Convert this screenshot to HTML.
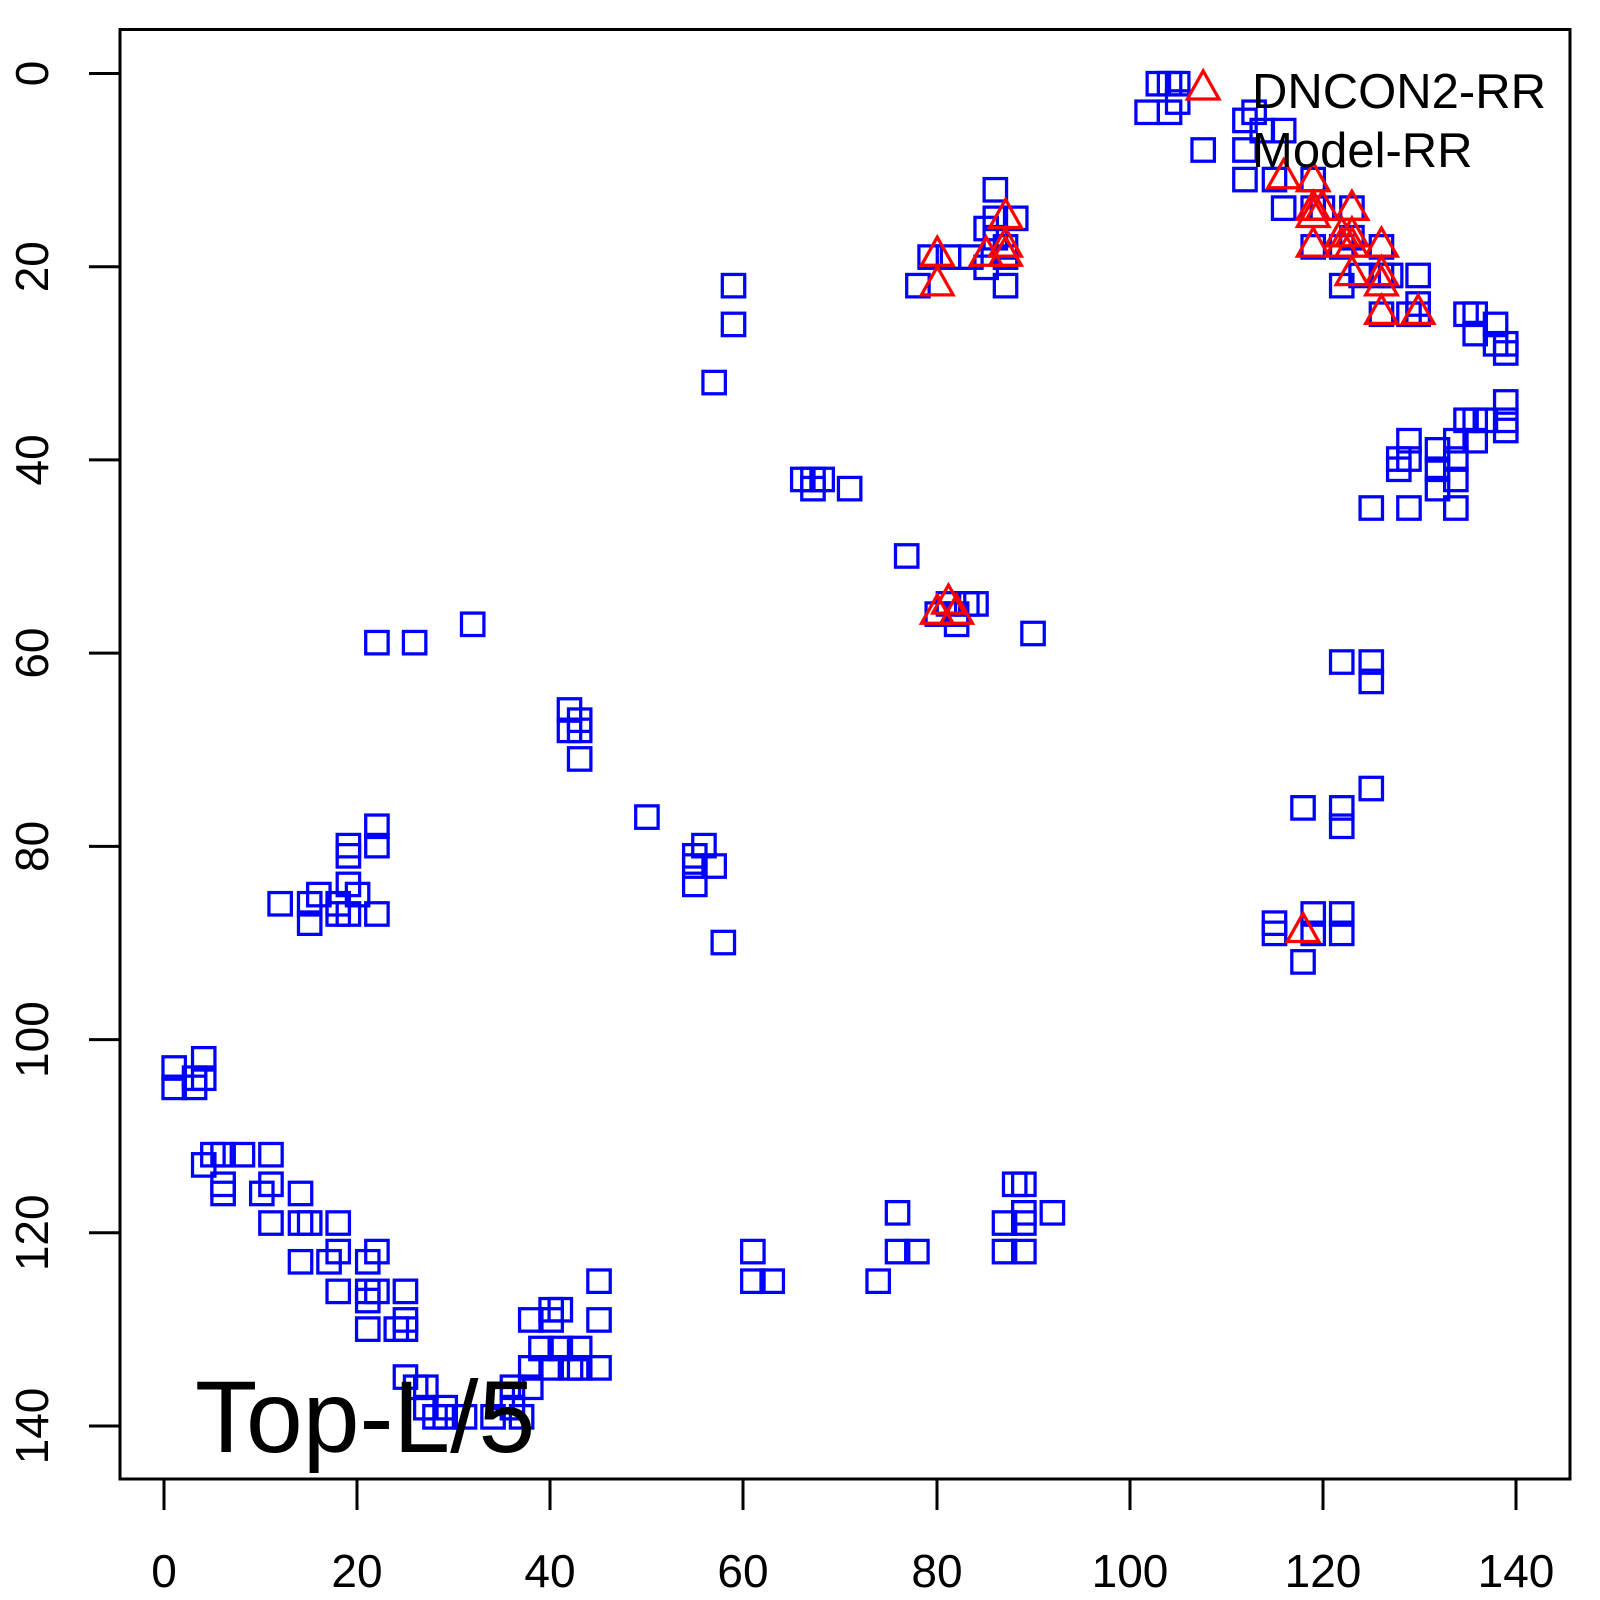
<!DOCTYPE html>
<html><head><meta charset="utf-8"><style>html,body{margin:0;padding:0;background:#fff}svg{display:block}</style></head>
<body>
<svg width="1600" height="1600" viewBox="0 0 1600 1600" xmlns="http://www.w3.org/2000/svg" font-family="'Liberation Sans', sans-serif">
<defs>
<rect id="s" x="-11" y="-11" width="22" height="22" fill="none" stroke="#0000ff" stroke-width="3.2"/>
<polygon id="t" points="0,-16.5 -15.5,11 15.5,11" fill="none" stroke="#ff0000" stroke-width="3.2" stroke-linejoin="miter"/>
</defs>
<rect x="120" y="29.5" width="1450" height="1449.5" fill="none" stroke="#000" stroke-width="3"/>
<g stroke="#000" stroke-width="3">
<line x1="164" y1="1479" x2="164" y2="1510"/><line x1="357" y1="1479" x2="357" y2="1510"/><line x1="550" y1="1479" x2="550" y2="1510"/><line x1="743" y1="1479" x2="743" y2="1510"/><line x1="937" y1="1479" x2="937" y2="1510"/><line x1="1130" y1="1479" x2="1130" y2="1510"/><line x1="1323" y1="1479" x2="1323" y2="1510"/><line x1="1516" y1="1479" x2="1516" y2="1510"/>
<line x1="89" y1="73.5" x2="120" y2="73.5"/><line x1="89" y1="266.7" x2="120" y2="266.7"/><line x1="89" y1="459.9" x2="120" y2="459.9"/><line x1="89" y1="653.1" x2="120" y2="653.1"/><line x1="89" y1="846.4" x2="120" y2="846.4"/><line x1="89" y1="1039.6" x2="120" y2="1039.6"/><line x1="89" y1="1232.8" x2="120" y2="1232.8"/><line x1="89" y1="1426" x2="120" y2="1426"/>
</g>
<g font-size="46" text-anchor="middle" fill="#000">
<text x="164" y="1587">0</text><text x="357" y="1587">20</text><text x="550" y="1587">40</text><text x="743" y="1587">60</text><text x="937" y="1587">80</text><text x="1130" y="1587">100</text><text x="1323" y="1587">120</text><text x="1516" y="1587">140</text>
<text transform="translate(48,73.5) rotate(-90)">0</text>
<text transform="translate(48,266.7) rotate(-90)">20</text>
<text transform="translate(48,459.9) rotate(-90)">40</text>
<text transform="translate(48,653.1) rotate(-90)">60</text>
<text transform="translate(48,846.4) rotate(-90)">80</text>
<text transform="translate(48,1039.6) rotate(-90)">100</text>
<text transform="translate(48,1232.8) rotate(-90)">120</text>
<text transform="translate(48,1426) rotate(-90)">140</text>
</g>
<g transform="matrix(1.0188 0 0 1.02 0.99 0.06)">
<use href="#s" x="1136" y="82"/><use href="#s" x="1147" y="82"/><use href="#s" x="1155" y="82"/><use href="#s" x="1125" y="110"/><use href="#s" x="1147" y="110"/><use href="#s" x="1155" y="100"/><use href="#s" x="1180" y="147"/><use href="#s" x="1221" y="118"/><use href="#s" x="1221" y="147"/><use href="#s" x="1221" y="176"/><use href="#s" x="1230" y="110"/><use href="#s" x="1238" y="128"/><use href="#s" x="1259" y="128"/><use href="#s" x="1259" y="204"/><use href="#s" x="1250" y="176"/><use href="#s" x="1288" y="176"/><use href="#s" x="1288" y="204"/><use href="#s" x="1288" y="242"/><use href="#s" x="1297" y="204"/><use href="#s" x="1316" y="242"/><use href="#s" x="1316" y="280"/><use href="#s" x="1326" y="204"/><use href="#s" x="1326" y="233"/><use href="#s" x="1335" y="270"/><use href="#s" x="1355" y="242"/><use href="#s" x="1355" y="270"/><use href="#s" x="1364" y="270"/><use href="#s" x="1355" y="308"/><use href="#s" x="1382" y="308"/><use href="#s" x="1391" y="270"/><use href="#s" x="1391" y="298"/><use href="#s" x="1391" y="308"/><use href="#s" x="1438" y="308"/><use href="#s" x="1447" y="308"/><use href="#s" x="1447" y="327"/><use href="#s" x="1467" y="318"/><use href="#s" x="1467" y="337"/><use href="#s" x="1477" y="337"/><use href="#s" x="1477" y="346"/>
<use href="#s" x="1477" y="394"/><use href="#s" x="1477" y="412"/><use href="#s" x="1477" y="422"/><use href="#s" x="1457" y="412"/><use href="#s" x="1447" y="412"/><use href="#s" x="1447" y="432"/><use href="#s" x="1438" y="412"/><use href="#s" x="1428" y="432"/><use href="#s" x="1428" y="450"/><use href="#s" x="1428" y="470"/><use href="#s" x="1428" y="498"/><use href="#s" x="1410" y="441"/><use href="#s" x="1410" y="460"/><use href="#s" x="1410" y="479"/><use href="#s" x="1382" y="432"/><use href="#s" x="1382" y="450"/><use href="#s" x="1372" y="450"/><use href="#s" x="1372" y="460"/><use href="#s" x="1345" y="498"/><use href="#s" x="1382" y="498"/>
<use href="#s" x="1316" y="649"/><use href="#s" x="1345" y="649"/><use href="#s" x="1345" y="668"/><use href="#s" x="1345" y="773"/><use href="#s" x="1278" y="792"/><use href="#s" x="1316" y="792"/><use href="#s" x="1316" y="810"/><use href="#s" x="1250" y="905"/><use href="#s" x="1250" y="915"/><use href="#s" x="1288" y="896"/><use href="#s" x="1288" y="915"/><use href="#s" x="1316" y="896"/><use href="#s" x="1316" y="915"/><use href="#s" x="1278" y="943"/>
<use href="#s" x="976" y="186"/><use href="#s" x="976" y="214"/><use href="#s" x="996" y="214"/><use href="#s" x="967" y="224"/><use href="#s" x="976" y="233"/><use href="#s" x="986" y="242"/><use href="#s" x="986" y="252"/><use href="#s" x="952" y="252"/><use href="#s" x="967" y="262"/><use href="#s" x="930" y="252"/><use href="#s" x="912" y="252"/><use href="#s" x="900" y="280"/><use href="#s" x="986" y="280"/>
<use href="#s" x="719" y="280"/><use href="#s" x="719" y="318"/><use href="#s" x="700" y="375"/><use href="#s" x="787" y="470"/><use href="#s" x="797" y="470"/><use href="#s" x="806" y="470"/><use href="#s" x="797" y="479"/><use href="#s" x="833" y="479"/><use href="#s" x="889" y="545"/><use href="#s" x="919" y="602"/><use href="#s" x="930" y="592"/><use href="#s" x="938" y="602"/><use href="#s" x="948" y="592"/><use href="#s" x="957" y="592"/><use href="#s" x="938" y="612"/><use href="#s" x="1013" y="621"/>
<use href="#s" x="463" y="612"/><use href="#s" x="369" y="630"/><use href="#s" x="406" y="630"/><use href="#s" x="558" y="696"/><use href="#s" x="568" y="706"/><use href="#s" x="558" y="716"/><use href="#s" x="568" y="716"/><use href="#s" x="568" y="744"/><use href="#s" x="634" y="801"/><use href="#s" x="681" y="839"/><use href="#s" x="690" y="829"/><use href="#s" x="681" y="849"/><use href="#s" x="681" y="867"/><use href="#s" x="700" y="849"/><use href="#s" x="709" y="924"/>
<use href="#s" x="274" y="886"/><use href="#s" x="303" y="886"/><use href="#s" x="303" y="905"/><use href="#s" x="312" y="877"/><use href="#s" x="341" y="829"/><use href="#s" x="341" y="839"/><use href="#s" x="341" y="867"/><use href="#s" x="341" y="896"/><use href="#s" x="331" y="886"/><use href="#s" x="331" y="896"/><use href="#s" x="350" y="877"/><use href="#s" x="369" y="810"/><use href="#s" x="369" y="829"/><use href="#s" x="369" y="896"/>
<use href="#s" x="170" y="1047"/><use href="#s" x="170" y="1066"/><use href="#s" x="190" y="1057"/><use href="#s" x="190" y="1066"/><use href="#s" x="199" y="1038"/><use href="#s" x="199" y="1057"/><use href="#s" x="199" y="1142"/><use href="#s" x="208" y="1132"/><use href="#s" x="218" y="1132"/><use href="#s" x="218" y="1161"/><use href="#s" x="218" y="1170"/><use href="#s" x="237" y="1132"/><use href="#s" x="256" y="1170"/><use href="#s" x="265" y="1132"/><use href="#s" x="265" y="1161"/><use href="#s" x="265" y="1199"/><use href="#s" x="294" y="1170"/><use href="#s" x="294" y="1199"/><use href="#s" x="294" y="1237"/><use href="#s" x="303" y="1199"/><use href="#s" x="322" y="1237"/><use href="#s" x="331" y="1199"/><use href="#s" x="331" y="1227"/><use href="#s" x="331" y="1266"/><use href="#s" x="360" y="1237"/><use href="#s" x="360" y="1266"/><use href="#s" x="360" y="1275"/><use href="#s" x="360" y="1303"/><use href="#s" x="369" y="1227"/><use href="#s" x="369" y="1266"/><use href="#s" x="388" y="1303"/><use href="#s" x="397" y="1266"/><use href="#s" x="397" y="1294"/><use href="#s" x="397" y="1303"/><use href="#s" x="397" y="1350"/><use href="#s" x="407" y="1360"/><use href="#s" x="417" y="1360"/><use href="#s" x="417" y="1380"/><use href="#s" x="426" y="1389"/><use href="#s" x="436" y="1380"/><use href="#s" x="436" y="1389"/><use href="#s" x="455" y="1389"/><use href="#s" x="483" y="1389"/><use href="#s" x="492" y="1370"/><use href="#s" x="502" y="1360"/><use href="#s" x="502" y="1380"/><use href="#s" x="511" y="1389"/><use href="#s" x="520" y="1360"/><use href="#s" x="520" y="1341"/><use href="#s" x="520" y="1294"/><use href="#s" x="530" y="1322"/><use href="#s" x="540" y="1294"/><use href="#s" x="540" y="1284"/><use href="#s" x="549" y="1284"/><use href="#s" x="540" y="1341"/><use href="#s" x="549" y="1322"/><use href="#s" x="559" y="1341"/><use href="#s" x="568" y="1322"/><use href="#s" x="568" y="1341"/><use href="#s" x="587" y="1256"/><use href="#s" x="587" y="1294"/><use href="#s" x="587" y="1341"/>
<use href="#s" x="738" y="1227"/><use href="#s" x="738" y="1256"/><use href="#s" x="757" y="1256"/><use href="#s" x="861" y="1256"/><use href="#s" x="880" y="1189"/><use href="#s" x="880" y="1227"/><use href="#s" x="899" y="1227"/><use href="#s" x="985" y="1199"/><use href="#s" x="985" y="1227"/><use href="#s" x="995" y="1161"/><use href="#s" x="1004" y="1161"/><use href="#s" x="1004" y="1189"/><use href="#s" x="1004" y="1199"/><use href="#s" x="1004" y="1227"/><use href="#s" x="1032" y="1189"/>
<use href="#t" x="1180" y="86"/><use href="#t" x="1259" y="173"/><use href="#t" x="1288" y="176"/><use href="#t" x="1288" y="204"/><use href="#t" x="1297" y="204"/><use href="#t" x="1288" y="211"/><use href="#t" x="1288" y="240"/><use href="#t" x="1316" y="240"/><use href="#t" x="1326" y="204"/><use href="#t" x="1326" y="230"/><use href="#t" x="1316" y="230"/><use href="#t" x="1326" y="240"/><use href="#t" x="1326" y="268"/><use href="#t" x="1355" y="240"/><use href="#t" x="1355" y="268"/><use href="#t" x="1355" y="278"/><use href="#t" x="1355" y="306"/><use href="#t" x="1391" y="306"/><use href="#t" x="986" y="212"/><use href="#t" x="986" y="240"/><use href="#t" x="986" y="249"/><use href="#t" x="967" y="249"/><use href="#t" x="919" y="249"/><use href="#t" x="919" y="278"/><use href="#t" x="919" y="600"/><use href="#t" x="930" y="590"/><use href="#t" x="938" y="600"/><use href="#t" x="1278" y="912"/>
</g>
<g font-size="49" fill="#000">
<text x="1252" y="108">DNCON2-RR</text>
<text x="1252" y="167">Model-RR</text>
</g>
<text x="195" y="1452" font-size="102" fill="#000">Top-L/5</text>
</svg>
</body></html>
